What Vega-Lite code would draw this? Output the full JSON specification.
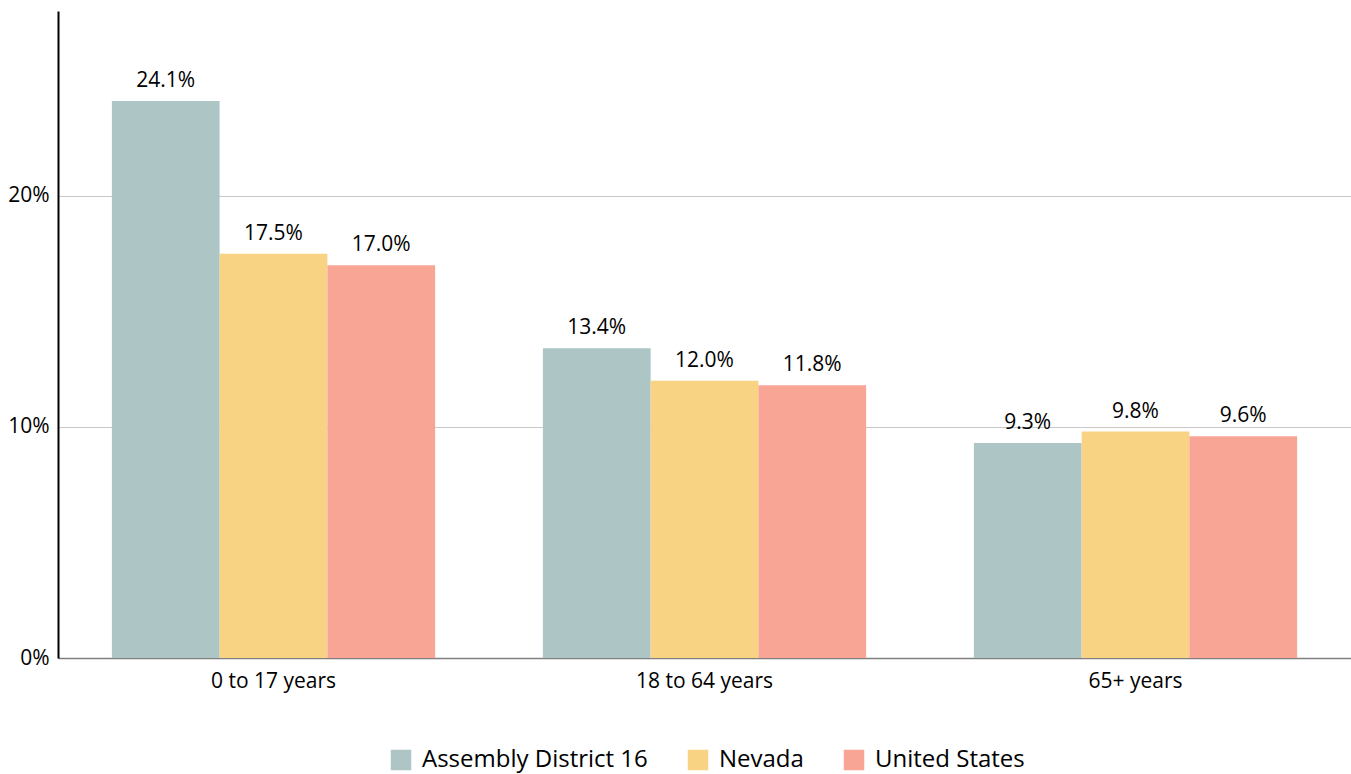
{
  "$schema": "https://vega.github.io/schema/vega-lite/v6.json",
  "autosize": {"type": "none"},
  "width": 1293,
  "height": 647,
  "padding": {"left": 58, "top": 11, "right": 0, "bottom": 116},
  "background": "white",
  "config": {
    "font": "Open Sans",
    "view": {"stroke": null}
  },
  "data": {
    "values": [
      {"age": "0 to 17 years", "geo": "Assembly District 16", "value": 0.241},
      {"age": "0 to 17 years", "geo": "Nevada", "value": 0.175},
      {"age": "0 to 17 years", "geo": "United States", "value": 0.170},
      {"age": "18 to 64 years", "geo": "Assembly District 16", "value": 0.134},
      {"age": "18 to 64 years", "geo": "Nevada", "value": 0.120},
      {"age": "18 to 64 years", "geo": "United States", "value": 0.118},
      {"age": "65+ years", "geo": "Assembly District 16", "value": 0.093},
      {"age": "65+ years", "geo": "Nevada", "value": 0.098},
      {"age": "65+ years", "geo": "United States", "value": 0.096}
    ]
  },
  "encoding": {
    "x": {
      "field": "age", "type": "nominal", "title": null,
      "sort": ["0 to 17 years", "18 to 64 years", "65+ years"],
      "scale": {"paddingInner": 0.25, "paddingOuter": 0.125},
      "axis": {"labelAngle": 0, "labelFontSize": 21, "labelColor": "#000000", "labelPadding": 12, "ticks": false, "domainColor": "#808080", "domainWidth": 1.5, "grid": false}
    },
    "xOffset": {
      "field": "geo", "type": "nominal",
      "sort": ["Assembly District 16", "Nevada", "United States"],
      "scale": {"paddingInner": 0, "paddingOuter": 0}
    },
    "y": {
      "field": "value", "type": "quantitative", "title": null,
      "scale": {"domain": [0, 0.28], "nice": false},
      "axis": {"values": [0, 0.1, 0.2], "format": ".0%", "labelFontSize": 21, "labelColor": "#000000", "labelPadding": 9, "ticks": false, "domainColor": "#000000", "domainWidth": 2, "gridColor": "#c8c8c8", "gridWidth": 1.2}
    }
  },
  "layer": [
    {
      "mark": {"type": "bar"},
      "encoding": {
        "color": {
          "field": "geo", "type": "nominal", "title": null,
          "sort": ["Assembly District 16", "Nevada", "United States"],
          "scale": {"domain": ["Assembly District 16", "Nevada", "United States"], "range": ["#aec5c5", "#f8d384", "#f8a596"]},
          "legend": {"orient": "none", "legendX": 331, "legendY": 737, "direction": "horizontal", "symbolType": "square", "symbolSize": 420, "symbolStrokeWidth": 0, "labelFontSize": 24, "labelLimit": 400, "labelColor": "#000000", "columnPadding": 38, "labelOffset": 9}
        }
      }
    },
    {
      "mark": {"type": "text", "baseline": "bottom", "dy": -10, "fontSize": 21, "color": "#000000"},
      "encoding": {
        "text": {"field": "value", "type": "quantitative", "format": ".1%"}
      }
    }
  ]
}
